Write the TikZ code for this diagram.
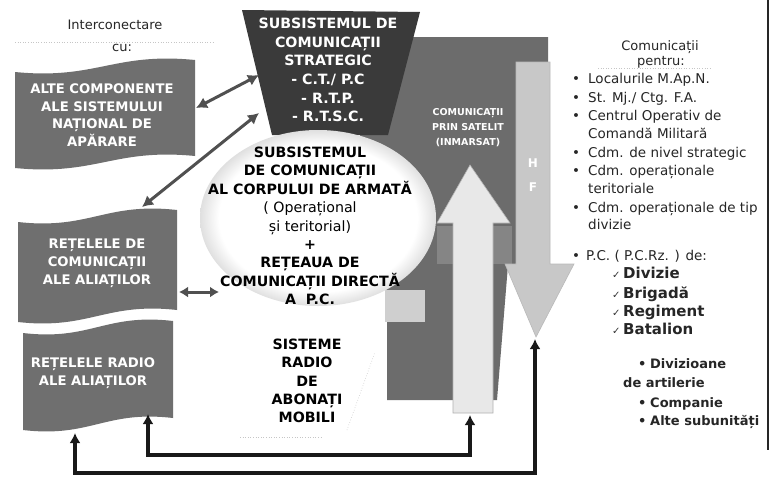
\documentclass[tikz,border=0pt]{standalone}
\usepackage{fontspec}
\setmainfont{DejaVu Sans}
\usetikzlibrary{arrows.meta}
\definecolor{bannergray}{HTML}{6F6F6F}
\definecolor{trapdark}{HTML}{3A3A3A}
\definecolor{satgray}{HTML}{6C6C6C}
\definecolor{midgray}{HTML}{858585}
\definecolor{upfill}{HTML}{E8E8E8}
\definecolor{hffill}{HTML}{C8C8C8}
\definecolor{ellgray}{HTML}{CFCFCF}
\definecolor{arrgray}{HTML}{505050}
\pgfdeclareradialshading{ellshade}{\pgfpoint{0bp}{0bp}}{color(0bp)=(white); color(21bp)=(white); color(25bp)=(ellgray!65); color(28bp)=(ellgray); color(50bp)=(ellgray)}
\tikzset{
  whitebold/.style={text=white, align=center, inner sep=0pt},
  trapfont/.style={whitebold, font=\bfseries\fontsize{14.2}{18.7}\selectfont},
  bannerfont/.style={whitebold, font=\bfseries\fontsize{13.2}{17.8}\selectfont},
  satfont/.style={whitebold, font=\bfseries\fontsize{9.5}{15}\selectfont},
  blackbold/.style={text=black, align=center, inner sep=0pt, font=\bfseries\fontsize{14.2}{18.4}\selectfont},
  headtext/.style={text=black!85, inner sep=0pt, font=\fontsize{13}{15}\selectfont},
  listtext/.style={anchor=base west, inner sep=0pt, text=black!85, font=\fontsize{13.5}{16}\selectfont},
  subtext/.style={anchor=base west, inner sep=0pt, text=black!85, font=\bfseries\fontsize{15}{18}\selectfont},
  lowtext/.style={anchor=base west, inner sep=0pt, text=black!85, font=\bfseries\fontsize{13}{16}\selectfont},
  checkmark/.style={anchor=base west, inner sep=0pt, text=black!80, font=\fontsize{10}{10}\selectfont},
  dblarrow/.style={draw=arrgray, line width=3pt, {Latex[length=11pt,width=12pt]}-{Latex[length=11pt,width=12pt]}},
  smallarrow/.style={draw=arrgray, line width=3pt, {Latex[length=9pt,width=11pt]}-{Latex[length=9pt,width=11pt]}},
  bottomarrow/.style={draw=black!90, line width=3.2pt, {Latex[length=10pt,width=11pt]}-{Latex[length=10pt,width=11pt]}},
  faint/.style={draw=gray!45, line width=0.6pt, dotted}
}
\begin{document}
\begin{tikzpicture}[x=1pt,y=-1pt]
\useasboundingbox (0,0) rectangle (773,477);
\fill[white] (0,0) rectangle (773,477);

% satellite shape
\fill[satgray] (360,37) -- (548,37) -- (548,265) -- (508,265) -- (497,400) -- (387,400) -- (387,300) -- (360,140) -- cycle;
\fill[midgray] (437,226) rectangle (512,264);
% up arrow
\filldraw[fill=upfill, draw=gray!60, line width=0.6pt] (470,165) -- (510,223) -- (493,223) -- (493,413) -- (453,413) -- (453,223) -- (437,223) -- cycle;
% HF arrow
\filldraw[fill=hffill, draw=gray!55, line width=0.6pt] (516,62) -- (550,62) -- (550,264) -- (574,264) -- (536,337) -- (505,264) -- (516,264) -- cycle;
\node[whitebold, font=\bfseries\fontsize{12}{14}\selectfont] (hfH) at (533,163) {H};
\node[whitebold, font=\bfseries\fontsize{12}{14}\selectfont] (hfF) at (533,187) {F};

% strategic trapezoid
\fill[trapdark] (242,10) -- (420,12) -- (388,135) -- (272,135) -- cycle;

% central ellipse
\fill[ellgray] (385,290) rectangle (425,322);
\shade[shading=ellshade] (318,218) ellipse [x radius=118pt, y radius=88pt];

% banners
\fill[bannergray] (15,72) .. controls (96,80) and (114,52) .. (195,60) -- (195,156) .. controls (114,148) and (96,176) .. (15,168) -- cycle;
\fill[bannergray] (18,222) .. controls (89.5,230) and (105.5,202) .. (177,210) -- (177,310) .. controls (105.5,302) and (89.5,330) .. (18,322) -- cycle;
\fill[bannergray] (23,333) .. controls (90.5,341) and (105.5,313) .. (173,321) -- (173,418) .. controls (105.5,410) and (90.5,438) .. (23,430) -- cycle;

% texts in shapes
\node[trapfont] (strat) at (328,70) {SUBSISTEMUL DE\\COMUNICAȚII\\STRATEGIC\\- C.T./ P.C\\- R.T.P.\\- R.T.S.C.};
\node[satfont] (sat) at (468,128) {COMUNICAȚII\\PRIN SATELIT\\(INMARSAT)};
\node[blackbold] (corp) at (310,226) {SUBSISTEMUL\\DE COMUNICAȚII\\AL CORPULUI DE ARMATĂ\\{\mdseries ( Operațional}\\{\mdseries și teritorial)}\\+\\REȚEAUA DE\\COMUNICAȚII DIRECTĂ\\A~~P.C.};
\node[bannerfont] (alte) at (102,115) {ALTE COMPONENTE\\ALE SISTEMULUI\\NAȚIONAL DE\\APĂRARE};
\node[bannerfont] (retcom) at (97,263) {REȚELELE DE\\COMUNICAȚII\\ALE ALIAȚILOR};
\node[bannerfont] (retrad) at (93,373) {REȚELELE RADIO\\ALE ALIAȚILOR};
\node[blackbold] (radio) at (307,381) {SISTEME\\RADIO\\DE\\ABONAȚI\\MOBILI};

% headings
\node[headtext] (ic1) at (115,25) {Interconectare};
\node[headtext] (ic2) at (122,48) {cu:};
\draw[faint] (15,42) -- (215,42);
\node[headtext] (cp1) at (660,47) {Comunicații};
\node[headtext] (cp2) at (661,62) {pentru:};
\draw[faint] (598,68) -- (712,68);

% faint dotted marks
\draw[faint] (347,430) -- (375,352);
\draw[faint] (240,437) -- (323,437);

% right list
\begin{scope}
\clip (560,70) rectangle (766,440);
\foreach \yy in {83,102,120,157,175,212,260} {\node[listtext] at (572,\yy) {•};}
\node[listtext] (l1) at (588,83) {Localurile M.Ap.N.};
\node[listtext] (l2) at (588,102) {St. Mj./ Ctg. F.A.};
\node[listtext] (l3) at (588,120) {Centrul Operativ de};
\node[listtext] (l3b) at (588,138) {Comandă Militară};
\node[listtext] (l4) at (588,157) {Cdm. de nivel strategic};
\node[listtext] (l5) at (588,175) {Cdm. operaționale};
\node[listtext] (l5b) at (588,193) {teritoriale};
\node[listtext] (l6) at (588,212) {Cdm. operaționale de tip};
\node[listtext] (l6b) at (588,229) {divizie};
\node[listtext] (l7) at (586,260) {P.C. ( P.C.Rz. ) de:};
\foreach \yy in {278,298,316,334} {\node[checkmark] at (612,\yy) {✓};}
\node[subtext] (s1) at (623,278) {Divizie};
\node[subtext] (s2) at (623,298) {Brigadă};
\node[subtext] (s3) at (623,316) {Regiment};
\node[subtext] (s4) at (623,334) {Batalion};
\foreach \yy in {368,407,425} {\node[lowtext] at (638,\yy) {•};}
\node[lowtext] (d1) at (650,368) {Divizioane};
\node[lowtext] (d1b) at (623,387) {de artilerie};
\node[lowtext] (d2) at (650,407) {Companie};
\node[lowtext] (d3) at (650,425) {Alte subunități};
\end{scope}
\draw[black!85, line width=1.2pt] (768,0) -- (768,450);

% interconnection arrows
\coordinate (a1s) at (196,108); \coordinate (a1e) at (259,75);
\coordinate (a2s) at (259,113); \coordinate (a2e) at (142,207);
\coordinate (a3s) at (179,292); \coordinate (a3e) at (219,292);
\draw[dblarrow] (a1s) -- (a1e);
\draw[dblarrow] (a2s) -- (a2e);
\draw[smallarrow] (a3s) -- (a3e);

% bottom arrows
\coordinate (b1a) at (75,433); \coordinate (b1c) at (75,473);
\coordinate (b1d) at (535,473); \coordinate (b1b) at (535,339);
\draw[bottomarrow] (b1a) -- (b1c) -- (b1d) -- (b1b);
\coordinate (b2a) at (148,414); \coordinate (b2c) at (148,455);
\coordinate (b2d) at (470,455); \coordinate (b2b) at (470,415);
\draw[bottomarrow] (b2a) -- (b2c) -- (b2d) -- (b2b);
\end{tikzpicture}
\end{document}
